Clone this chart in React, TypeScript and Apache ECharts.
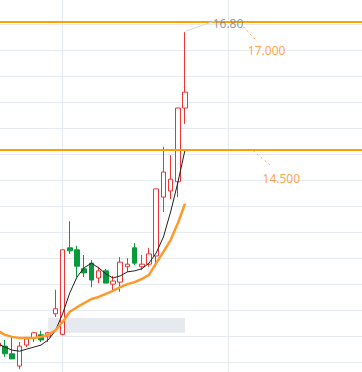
import React, { useEffect, useRef } from "react";
import * as echarts from "echarts";

const categories: string[] = Array.from({ length: 52 }, (_, i) => String(i + 1));

const opens = [10.67, 10.67, 10.52, 10.28, 10.69, 10.83, 10.89, 10.85, 11.3, 10.9, 12.59, 12.55, 12.18, 12.29, 12.0, 12.14, 11.88, 11.92, 12.22, 12.59, 12.22, 12.27, 12.43, 13.58, 13.7, 13.88, 15.32];
const closes = [10.73, 10.52, 10.42, 10.67, 10.81, 10.93, 10.79, 10.93, 11.4, 12.55, 12.53, 12.23, 12.1, 11.96, 12.14, 11.9, 11.94, 12.31, 12.27, 12.29, 12.27, 12.47, 13.74, 14.07, 13.93, 15.32, 15.63];
const lows = [10.65, 10.46, 10.42, 10.22, 10.65, 10.75, 10.75, 10.75, 11.24, 10.88, 12.47, 12.02, 12.02, 11.82, 11.9, 11.9, 11.75, 11.73, 12.12, 12.25, 12.16, 12.22, 12.22, 13.29, 13.54, 13.58, 15.01];
const highs = [10.75, 10.79, 10.85, 10.75, 10.85, 10.95, 10.97, 10.95, 11.77, 12.56, 13.11, 12.63, 12.45, 12.35, 12.22, 12.18, 12.04, 12.41, 12.39, 12.68, 12.45, 12.59, 13.74, 14.56, 14.4, 15.33, 16.8];

const maShort = [10.71, 10.65, 10.59, 10.57, 10.61, 10.65, 10.69, 10.79, 10.97, 11.3, 11.71, 12.02, 12.2, 12.29, 12.2, 12.08, 12.0, 12.04, 12.12, 12.14, 12.18, 12.29, 12.49, 12.8, 13.29, 13.86, 14.5];
const maLong = [10.97, 10.89, 10.85, 10.83, 10.83, 10.83, 10.85, 10.89, 10.98, 11.14, 11.34, 11.43, 11.51, 11.59, 11.63, 11.69, 11.75, 11.82, 11.88, 11.92, 11.98, 12.06, 12.29, 12.51, 12.74, 13.07, 13.45];

const levels = [17.0, 14.5];
const levelLabels = ["17.000", "14.500"];
const levelLabelIndex = [34, 35];
const zoneRange = { fromIndex: 7, toIndex: 26, top: 11.22, bottom: 10.93 };
const priceMin = 9.8515625;
const priceMax = 17.46875;

export default function App() {
  const ref = useRef<HTMLDivElement>(null);
  useEffect(() => {
    if (!ref.current) return;
    const chart = echarts.init(ref.current, undefined, { renderer: "svg" });
    const kData = opens.map((o, i) => [o, closes[i], lows[i], highs[i]]);
    const maxHigh = Math.max(...highs);
    const maxIdx = highs.indexOf(maxHigh);
    const font = "'Noto Sans', sans-serif";
    const gridRect = { left: -2.2, top: -2, width: 367.2, height: 390, containLabel: false, outerBoundsMode: "none" };
    const hiddenAxis = {
      axisLine: { show: false },
      axisTick: { show: false },
      axisLabel: { show: false },
    };
    const labelSeries = (name: string, point: number[], text: string, color: string, dx: number, dy: number) => ({
      type: "scatter",
      name,
      data: [point],
      symbolSize: 0.1,
      itemStyle: { color: "rgba(0,0,0,0)" },
      silent: true,
      z: 5,
      label: {
        show: true,
        position: "inside",
        formatter: () => text,
        color,
        fontSize: 12,
        fontFamily: font,
      },
      labelLayout: { dx, dy },
    });
    chart.setOption({
      animation: false,
      grid: [gridRect, { ...gridRect }],
      xAxis: [
        {
          type: "category",
          gridIndex: 0,
          data: categories,
          boundaryGap: false,
          ...hiddenAxis,
          splitLine: {
            show: true,
            interval: (idx: number) => idx === 9 || idx === 32,
            lineStyle: { color: "#e6ebf1", width: 1 },
          },
        },
        { type: "value", gridIndex: 1, min: 0, max: 1, ...hiddenAxis, splitLine: { show: false } },
      ],
      yAxis: [
        { type: "value", gridIndex: 0, min: priceMin, max: priceMax, ...hiddenAxis, splitLine: { show: false } },
        {
          type: "value",
          gridIndex: 1,
          min: 0,
          max: 15,
          interval: 1,
          ...hiddenAxis,
          splitLine: { show: true, lineStyle: { color: "#e6ebf1", width: 1 } },
        },
      ],
      series: [
        {
          type: "line",
          name: "zone",
          data: [],
          z: 1,
          silent: true,
          markArea: {
            silent: true,
            itemStyle: { color: "#e6e9ee", opacity: 1 },
            data: [[{ coord: [zoneRange.fromIndex, zoneRange.top] }, { coord: [zoneRange.toIndex, zoneRange.bottom] }]],
          },
        },
        {
          type: "candlestick",
          name: "K",
          data: kData,
          barWidth: 5,
          z: 2,
          itemStyle: {
            color: "#ffffff",
            borderColor: "#ee3535",
            color0: "#0a9a3e",
            borderColor0: "#0a9a3e",
            borderWidth: 1,
          },
        },
        {
          type: "line",
          name: "MA5",
          data: maShort,
          symbol: "none",
          z: 3,
          lineStyle: { color: "#1f1f1f", width: 1 },
        },
        {
          type: "line",
          name: "MA10",
          data: maLong,
          symbol: "none",
          z: 3,
          lineStyle: { color: "#ff9a2a", width: 2.5 },
        },
        {
          type: "line",
          name: "levels",
          data: [],
          z: 4,
          markLine: {
            silent: true,
            symbol: "none",
            label: { show: false },
            lineStyle: { color: "#ffa000", width: 2, type: "solid" },
            data: levels.map((v) => ({ yAxis: v })),
          },
        },
        labelSeries("lab17", [levelLabelIndex[0], levels[0]], levelLabels[0], "#ff8c1a", 24, 28.5),
        labelSeries("lab145", [levelLabelIndex[1], levels[1]], levelLabels[1], "#ff8c1a", 31.5, 28),
        labelSeries("labMax", [maxIdx, maxHigh], maxHigh.toFixed(2), "#77818c", 43, -9),
      ],
    });

    const px = (i: number, v: number) => chart.convertToPixel({ xAxisIndex: 0, yAxisIndex: 0 }, [i, v]) as number[];
    const a17 = px(levelLabelIndex[0], levels[0]);
    const a145 = px(levelLabelIndex[1], levels[1]);
    const aMax = px(maxIdx, maxHigh);
    const dashed = { stroke: "#f5a055", lineWidth: 1, lineDash: [2, 3] };
    chart.setOption({
      graphic: [
        { type: "line", silent: true, z: 10, shape: { x1: a17[0] + 0.7, y1: a17[1] + 4.7, x2: a17[0] + 14.7, y2: a17[1] + 19.7 }, style: dashed },
        { type: "line", silent: true, z: 10, shape: { x1: a145[0] + 3.5, y1: a145[1] + 0.7, x2: a145[0] + 21.9, y2: a145[1] + 16.7 }, style: dashed },
        { type: "line", silent: true, z: 10, shape: { x1: aMax[0] + 0.5, y1: aMax[1] - 1, x2: aMax[0] + 30, y2: aMax[1] - 11.3 }, style: { stroke: "#d5dbe3", lineWidth: 1 } },
      ],
    });
    return () => chart.dispose();
  }, []);
  return (
    <div
      ref={ref}
      style={{ position: "fixed", left: 0, top: 0, width: 362, height: 372, overflow: "hidden", background: "#fff" }}
    />
  );
}
